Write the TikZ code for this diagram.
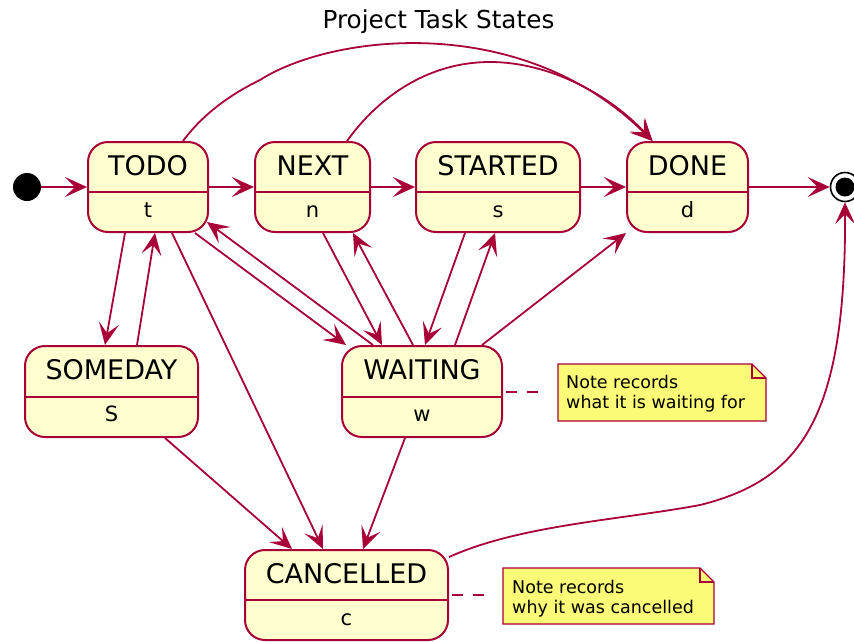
\documentclass[tikz,border=0pt]{standalone}
\usepackage{fontspec}
\setmainfont{DejaVu Sans}
\usetikzlibrary{arrows.meta}
\definecolor{pred}{HTML}{A80036}
\definecolor{pfill}{HTML}{FEFECE}
\definecolor{nfill}{HTML}{FBFB77}
\begin{document}
\begin{tikzpicture}[x=1pt,y=-1pt,
  statebox/.style={draw=pred, fill=pfill, line width=2pt, rounded corners=20pt,
    inner sep=0pt, minimum height=90pt},
  divider/.style={draw=pred, line width=2pt},
  namelabel/.style={font=\fontsize{27}{30}\selectfont, anchor=base, inner sep=0pt},
  bodylabel/.style={font=\fontsize{21}{25}\selectfont, anchor=base, inner sep=0pt},
  titlelabel/.style={font=\fontsize{24.7}{28}\selectfont, anchor=base, inner sep=0pt},
  startdot/.style={circle, fill=black, minimum size=28pt, inner sep=0pt},
  endring/.style={circle, draw=black, fill=white, line width=1.6pt, minimum size=29pt, inner sep=0pt},
  enddot/.style={circle, fill=black, minimum size=19pt, inner sep=0pt},
  arr/.style={draw=pred, line width=1.8pt, -{Stealth[length=22pt,width=20pt,inset=10pt]}},
  notearea/.style={rectangle, inner sep=0pt, outer sep=0pt},
  notebody/.style={fill=nfill, draw=pred, line width=1.4pt, line join=miter},
  notefold/.style={draw=pred, line width=1.4pt},
  notetext/.style={font=\fontsize{17.5}{20}\selectfont, align=left, anchor=west, inner sep=0pt},
  notelink/.style={draw=pred, line width=2pt, dash pattern=on 11pt off 10pt, dash phase=18pt, shorten >=11pt}
]
\useasboundingbox (0,0) rectangle (854,641);

% title
\node[titlelabel] (title) at (438.5,28) {Project Task States};

% states
\node[statebox, minimum width=120pt] (todo) at (148,187) {};
\node[statebox, minimum width=115pt] (next) at (312.5,187) {};
\node[statebox, minimum width=164pt] (started) at (498,187) {};
\node[statebox, minimum width=121pt] (done) at (687.5,187) {};
\node[statebox, minimum width=173pt, minimum height=91pt] (someday) at (111.5,391.5) {};
\node[statebox, minimum width=160pt, minimum height=91pt] (waiting) at (422,391.5) {};
\node[statebox, minimum width=203pt] (cancelled) at (346.5,595) {};

\foreach \st/\nm/\bd in {todo/TODO/t, next/NEXT/n, started/STARTED/s, done/DONE/d,
    someday/SOMEDAY/S, waiting/WAITING/w, cancelled/CANCELLED/c} {
  \draw[divider] ([yshift=-5pt]\st.west) -- ([yshift=-5pt]\st.east);
  \node[namelabel] (\st-name) at ([yshift=12pt]\st.center) {\nm};
  \node[bodylabel] (\st-body) at ([yshift=-30pt]\st.center) {\bd};
}

% initial and final pseudo states
\node[startdot] (start) at (27,187) {};
\node[endring] (end) at (845,187) {};
\node[enddot] (endcore) at (end.center) {};

% notes
\node[notearea, minimum width=208pt, minimum height=57pt] (note1) at (662,392.5) {};
\draw[notebody] (note1.south west) -- (note1.north west) -- ([xshift=-14pt]note1.north east)
  -- ([yshift=-14pt]note1.north east) -- (note1.south east) -- cycle;
\draw[notefold] ([xshift=-14pt]note1.north east) |- ([yshift=-14pt]note1.north east);
\node[notetext] (note1-text) at (566,394) {Note records\\what it is waiting for};

\node[notearea, minimum width=211pt, minimum height=56pt] (note2) at (608.5,596) {};
\draw[notebody] (note2.south west) -- (note2.north west) -- ([xshift=-14pt]note2.north east)
  -- ([yshift=-14pt]note2.north east) -- (note2.south east) -- cycle;
\draw[notefold] ([xshift=-14pt]note2.north east) |- ([yshift=-14pt]note2.north east);
\node[notetext] (note2-text) at (512,598.5) {Note records\\why it was cancelled};

\draw[notelink] (waiting.east) -- (waiting.east -| note1.west);
\draw[notelink] (cancelled.east) -- (cancelled.east -| note2.west);

% main row
\draw[arr] (start) -- (todo);
\draw[arr] (todo) -- (next);
\draw[arr] (next) -- (started);
\draw[arr] (started) -- (done);
\draw[arr] (done) -- (end);

% arcs over the top into DONE
\draw[arr] ([xshift=35pt]todo.north) .. controls (200,118) and (225,97) .. (260,80)
  .. controls (330,35) and (520,10) .. ([xshift=-35pt]done.north);
\draw[arr] ([xshift=34.5pt]next.north) .. controls (380,95) and (430,62) .. (490,62)
  .. controls (550,62) and (610,95) .. ([xshift=-35pt]done.north);

% TODO and SOMEDAY
\draw[arr] ([xshift=-23pt]todo.south) -- ([xshift=-6.5pt]someday.north);
\draw[arr] ([xshift=25.5pt]someday.north) -- ([xshift=7pt]todo.south);

% into CANCELLED
\draw[arr] ([xshift=24pt]todo.south) -- ([xshift=-23.5pt]cancelled.north);
\draw[arr] ([xshift=53.5pt]someday.south) -- ([xshift=-54.5pt]cancelled.north);
\draw[arr] ([xshift=-17pt]waiting.south) -- ([xshift=16.5pt]cancelled.north);

% WAITING and the top row
\draw[arr] ([xshift=47pt]todo.south) -- ([xshift=5pt]waiting.north west);
\draw[arr] ([xshift=-49pt]waiting.north) -- ([xshift=-2pt,yshift=-35pt]todo.east);
\draw[arr] ([xshift=10.5pt]next.south) -- ([xshift=-40pt]waiting.north);
\draw[arr] ([xshift=-9pt]waiting.north) -- ([xshift=40.5pt]next.south);
\draw[arr] ([xshift=-33pt]started.south) -- ([xshift=3pt]waiting.north);
\draw[arr] ([xshift=33pt]waiting.north) -- ([xshift=-3pt]started.south);
\draw[arr] ([xshift=60pt]waiting.north) -- (done.south west);

% CANCELLED to the final state
\draw[arr] ([yshift=38pt]cancelled.east) .. controls (520,525) and (620,520) .. (700,505)
  .. controls (800,480) and (846,420) .. (end.south);
\end{tikzpicture}
\end{document}
